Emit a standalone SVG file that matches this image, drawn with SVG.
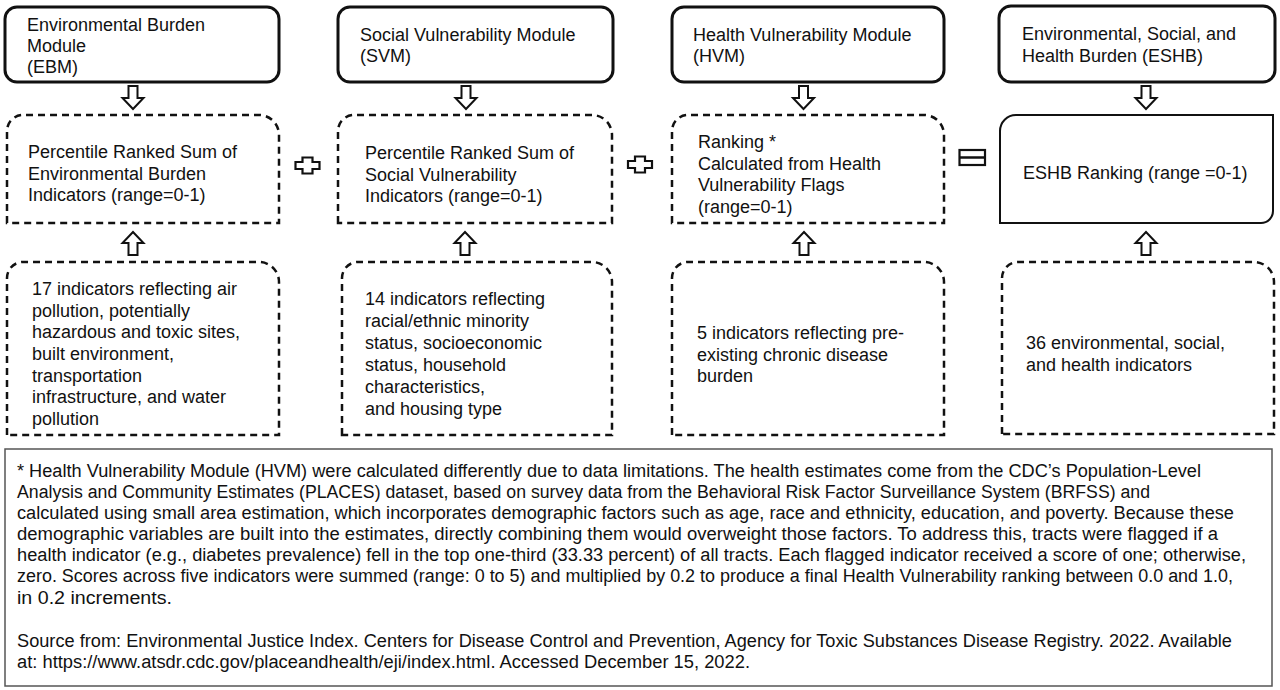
<svg xmlns="http://www.w3.org/2000/svg" width="1280" height="690" viewBox="0 0 1280 690">
<style>
text{font-family:"Liberation Sans",Arial,sans-serif;fill:#111}
.t{font-size:18px}
.f{font-size:17.6px}
.top{fill:#fff;stroke:#111;stroke-width:3}
.dash{fill:#fff;stroke:#111;stroke-width:2.5;stroke-dasharray:7 5}
.solid{fill:#fff;stroke:#111;stroke-width:2}
.arr{fill:#fff;stroke:#111;stroke-width:2;stroke-linejoin:miter}
.op{fill:#fff;stroke:#111;stroke-width:2.2}
</style>
<defs>
<path id="down" d="M-4.5,0 H4.5 V12 H10.5 L0,23 L-10.5,12 H-4.5 Z"/>
<path id="up" d="M-4.5,23 H4.5 V11 H10.5 L0,0 L-10.5,11 H-4.5 Z"/>
<path id="plus" d="M-5,-8 H5 V-3.5 H12 V3.5 H5 V8 H-5 V3.5 H-12 V-3.5 H-5 Z"/>
</defs>
<rect width="1280" height="690" fill="#fff"/>

<g id="ebm">
<rect class="top" x="5" y="7" width="274" height="75" rx="12"/>
<text class="t" x="27" y="31">Environmental Burden</text>
<text class="t" x="27" y="52">Module</text>
<text class="t" x="27" y="73">(EBM)</text>
</g>
<g id="svm">
<rect class="top" x="338" y="7" width="275" height="75" rx="12"/>
<text class="t" x="360" y="41">Social Vulnerability Module</text>
<text class="t" x="360" y="62">(SVM)</text>
</g>
<g id="hvm">
<rect class="top" x="672" y="7" width="272" height="75" rx="12"/>
<text class="t" x="693" y="41">Health Vulnerability Module</text>
<text class="t" x="693" y="62">(HVM)</text>
</g>
<g id="eshb">
<rect class="top" x="999" y="6" width="276" height="76" rx="12"/>
<text class="t" x="1022" y="40">Environmental, Social, and</text>
<text class="t" x="1022" y="62">Health Burden (ESHB)</text>
</g>

<g id="ebm-rank">
<path class="dash" d="M7,223 V131 A16,16 0 0 1 23,115 H259 A20,20 0 0 1 279,135 V223 Z"/>
<text class="t" x="28" y="158">Percentile Ranked Sum of</text>
<text class="t" x="28" y="179.5">Environmental Burden</text>
<text class="t" x="28" y="201">Indicators (range=0-1)</text>
</g>
<g id="svm-rank">
<path class="dash" d="M338,223 V131 A16,16 0 0 1 354,115 H592 A20,20 0 0 1 612,135 V223 Z"/>
<text class="t" x="365" y="159">Percentile Ranked Sum of</text>
<text class="t" x="365" y="180.5">Social Vulnerability</text>
<text class="t" x="365" y="202">Indicators (range=0-1)</text>
</g>
<g id="hvm-rank">
<path class="dash" d="M672,223 V131 A16,16 0 0 1 688,115 H924 A20,20 0 0 1 944,135 V223 Z"/>
<text class="t" x="698" y="148">Ranking *</text>
<text class="t" x="698" y="169.5">Calculated from Health</text>
<text class="t" x="698" y="191">Vulnerability Flags</text>
<text class="t" x="698" y="212.5">(range=0-1)</text>
</g>
<g id="eshb-rank">
<path class="solid" d="M1000,223 V131 A16,16 0 0 1 1016,115 H1273 V211 A12,12 0 0 1 1261,223 Z"/>
<text class="t" x="1023" y="179">ESHB Ranking (range =0-1)</text>
</g>

<g id="ebm-ind">
<path class="dash" d="M7,435 V278 A16,16 0 0 1 23,262 H259 A20,20 0 0 1 279,282 V435 Z"/>
<text class="t" x="32" y="295">17 indicators reflecting air</text>
<text class="t" x="32" y="316.7">pollution, potentially</text>
<text class="t" x="32" y="338.3">hazardous and toxic sites,</text>
<text class="t" x="32" y="360">built environment,</text>
<text class="t" x="32" y="381.7">transportation</text>
<text class="t" x="32" y="403.3">infrastructure, and water</text>
<text class="t" x="32" y="425">pollution</text>
</g>
<g id="svm-ind">
<path class="dash" d="M342,435 V278 A16,16 0 0 1 358,262 H592 A20,20 0 0 1 612,282 V435 Z"/>
<text class="t" x="365" y="305">14 indicators reflecting</text>
<text class="t" x="365" y="327">racial/ethnic minority</text>
<text class="t" x="365" y="349">status, socioeconomic</text>
<text class="t" x="365" y="371">status, household</text>
<text class="t" x="365" y="393">characteristics,</text>
<text class="t" x="365" y="415">and housing type</text>
</g>
<g id="hvm-ind">
<path class="dash" d="M672,435 V278 A16,16 0 0 1 688,262 H924 A20,20 0 0 1 944,282 V435 Z"/>
<text class="t" x="697" y="339">5 indicators reflecting pre-</text>
<text class="t" x="697" y="360.5">existing chronic disease</text>
<text class="t" x="697" y="382">burden</text>
</g>
<g id="eshb-ind">
<path class="dash" d="M1002,434 V278 A16,16 0 0 1 1018,262 H1254 A20,20 0 0 1 1274,282 V434 Z"/>
<text class="t" x="1026" y="349">36 environmental, social,</text>
<text class="t" x="1026" y="371">and health indicators</text>
</g>

<g id="connectors">
<use href="#down" class="arr" x="133" y="86"/>
<use href="#down" class="arr" x="466" y="86"/>
<use href="#down" class="arr" x="803.5" y="86"/>
<use href="#down" class="arr" x="1146" y="86"/>
<use href="#up" class="arr" x="133" y="232"/>
<use href="#up" class="arr" x="465" y="232"/>
<use href="#up" class="arr" x="804" y="232"/>
<use href="#up" class="arr" x="1146" y="232"/>
<use href="#plus" class="op" x="307.5" y="165.5"/>
<use href="#plus" class="op" x="640" y="164.5"/>
<rect class="op" x="959.5" y="150" width="25.5" height="15" stroke-width="2.5"/>
<line x1="959.5" y1="157.5" x2="985" y2="157.5" stroke="#111" stroke-width="2.5"/>
</g>

<g id="footnote">
<rect x="5" y="449" width="1267" height="237" fill="#fff" stroke="#555" stroke-width="1.5"/>
<text class="f" x="17" y="476.5" textLength="1184" lengthAdjust="spacingAndGlyphs">* Health Vulnerability Module (HVM) were calculated differently due to data limitations. The health estimates come from the CDC’s Population-Level</text>
<text class="f" x="17" y="497.7" textLength="1133" lengthAdjust="spacingAndGlyphs">Analysis and Community Estimates (PLACES) dataset, based on survey data from the Behavioral Risk Factor Surveillance System (BRFSS) and</text>
<text class="f" x="17" y="518.8" textLength="1217" lengthAdjust="spacingAndGlyphs">calculated using small area estimation, which incorporates demographic factors such as age, race and ethnicity, education, and poverty. Because these</text>
<text class="f" x="17" y="540" textLength="1201" lengthAdjust="spacingAndGlyphs">demographic variables are built into the estimates, directly combining them would overweight those factors. To address this, tracts were flagged if a</text>
<text class="f" x="17" y="561.2" textLength="1229" lengthAdjust="spacingAndGlyphs">health indicator (e.g., diabetes prevalence) fell in the top one-third (33.33 percent) of all tracts. Each flagged indicator received a score of one; otherwise,</text>
<text class="f" x="17" y="582.3" textLength="1216" lengthAdjust="spacingAndGlyphs">zero. Scores across five indicators were summed (range: 0 to 5) and multiplied by 0.2 to produce a final Health Vulnerability ranking between 0.0 and 1.0,</text>
<text class="f" x="17" y="603.5" textLength="155" lengthAdjust="spacingAndGlyphs">in 0.2 increments.</text>
<text class="f" x="17" y="646.5" textLength="1215" lengthAdjust="spacingAndGlyphs">Source from: Environmental Justice Index. Centers for Disease Control and Prevention, Agency for Toxic Substances Disease Registry. 2022. Available</text>
<text class="f" x="17" y="668" textLength="733" lengthAdjust="spacingAndGlyphs">at: https://www.atsdr.cdc.gov/placeandhealth/eji/index.html. Accessed December 15, 2022.</text>
</g>
</svg>
